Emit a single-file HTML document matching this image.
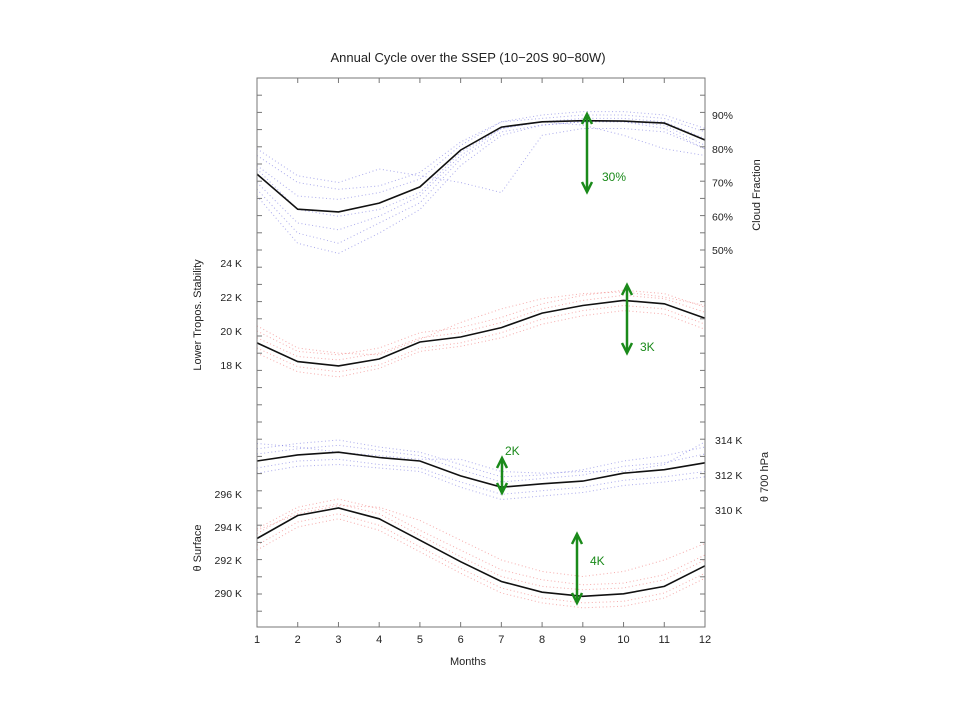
<!DOCTYPE html>
<html><head><meta charset="utf-8"><style>
html,body{margin:0;padding:0;background:#fff;width:960px;height:720px;overflow:hidden}
svg text{font-family:"Liberation Sans","DejaVu Sans",sans-serif;fill:#222}
</style></head><body>
<svg id="chart" width="960" height="720" viewBox="0 0 960 720" xmlns="http://www.w3.org/2000/svg">
<rect x="0" y="0" width="960" height="720" fill="#fff"/>
<text x="468" y="62" text-anchor="middle" font-size="13">Annual Cycle over the SSEP (10−20S 90−80W)</text>
<g id="plot"></g>
<rect x="257" y="78" width="448" height="549" fill="none" stroke="#777" stroke-width="1"/>
<g id="axes"></g>
<text x="468" y="665" text-anchor="middle" font-size="11">Months</text>
<text transform="translate(201,315) rotate(-90)" text-anchor="middle" font-size="11">Lower Tropos. Stability</text>
<text transform="translate(201,548) rotate(-90)" text-anchor="middle" font-size="11">θ  Surface</text>
<text transform="translate(760,195) rotate(-90)" text-anchor="middle" font-size="11">Cloud Fraction</text>
<text transform="translate(768,477) rotate(-90)" text-anchor="middle" font-size="11">θ  700 hPa</text>
</svg>
<script>
const months=[1,2,3,4,5,6,7,8,9,10,11,12];
const cloudMean=[72.5,62.1,61.3,63.9,68.7,79.6,86.4,88,88.3,88.2,87.6,82.6];
const ltsMean=[19.3,18.2,17.95,18.35,19.35,19.65,20.2,21.05,21.5,21.8,21.6,20.75];
const t700Mean=[312.8,313.15,313.3,313.0,312.8,311.95,311.3,311.5,311.65,312.1,312.3,312.7];
const tsfcMean=[293.3,294.7,295.15,294.5,293.2,291.9,290.7,290.05,289.8,289.95,290.4,291.65];
const cloudMembers=[
[78,70,68,69,73,82,88,90,91,91,90,86],
[75,66,65,67,71,81,88,89,90,90,89,85],
[70,58,56,60,66,78,86,88,89,89,88,83],
[68,55,52,58,64,77,85,87,88,88,87,81],
[80,72,70,74,72,70,67,84,86,86,85,80],
[74,62,60,62,67,79,86,88,87,84,80,78],
[66,52,49,55,62,75,84,87,88,88,86,80]];
const ltsMembers=[
[20,18.8,18.6,19,19.9,20.2,20.8,21.6,22.1,22.4,22.2,21.4],
[19.6,18.5,18.3,18.7,19.6,19.9,20.5,21.3,21.8,22.1,21.9,21.1],
[19,17.9,17.6,18,19,19.3,19.9,20.7,21.2,21.5,21.3,20.4],
[18.7,17.6,17.3,17.8,18.8,19.1,19.6,20.4,20.9,21.2,21,20.1],
[20.3,19,18.7,18.6,19.5,20.5,21.3,21.9,22.2,22.3,22,21.5]];
const t700Members=[
[313.5,313.8,314,313.6,313.3,312.6,311.9,312,312.3,312.8,313.1,313.6],
[313.2,313.5,313.7,313.4,313.1,312.3,311.6,311.8,312,312.5,312.7,313.2],
[312.4,312.8,312.9,312.6,312.4,311.6,310.9,311.1,311.3,311.7,311.9,312.2],
[312.1,312.5,312.6,312.4,312.2,311.3,310.6,310.8,311,311.4,311.6,311.9],
[313.8,313.6,313.3,313.1,312.9,312.9,312.2,312.1,312.2,312.2,312.6,313.9]];
const tsfcMembers=[
[293.9,295.2,295.7,295.1,293.8,292.6,291.4,290.8,290.5,290.6,291.1,292.3],
[293.6,295,295.4,294.8,293.5,292.2,291,290.4,290.2,290.3,290.8,292],
[292.9,294.3,294.8,294.1,292.8,291.5,290.3,289.7,289.4,289.5,290,291.2],
[292.6,294,294.5,293.8,292.5,291.2,290,289.4,289.1,289.2,289.7,290.9],
[293.8,294.8,295.3,295.2,294.4,293.2,292,291.3,291,291.3,292,293]];
const cloudTicks=[90,80,70,60,50];
const ltsTicks=[24,22,20,18];
const t700Ticks=[314,312,310];
const tsfcTicks=[296,294,292,290];

const NS='http://www.w3.org/2000/svg';
const plot=document.getElementById('plot'), axes=document.getElementById('axes');
const xS=m=>257+(m-1)*448/11;
const yCloud=v=>115+(90-v)*3.375;
const yLts=v=>331-(v-20)*17;
const y700=v=>475-(v-312)*17.5;
const ySfc=v=>593-(v-290)*16.5;
function mk(tag,attrs,parent){const e=document.createElementNS(NS,tag);for(const k in attrs)e.setAttribute(k,attrs[k]);parent.appendChild(e);return e;}
function pts(arr,yf){return arr.map((v,i)=>xS(months[i]).toFixed(1)+','+yf(v).toFixed(1)).join(' ');}
function series(mean,members,yf,col,name){
  members.forEach((m,j)=>{
    const p=mk('polyline',{points:pts(m,yf),fill:'none',stroke:col,'stroke-width':1,'stroke-dasharray':'1 2.6',opacity:0.55},plot);
    
    
  });
  const l=mk('polyline',{points:pts(mean,yf),fill:'none',stroke:'#111','stroke-width':1.6},plot);
  
  
}
series(cloudMean,cloudMembers,yCloud,'#6666dd','cloud-fraction');
series(ltsMean,ltsMembers,yLts,'#ee6666','lts');
series(t700Mean,t700Members,y700,'#6666dd','theta-700');
series(tsfcMean,tsfcMembers,ySfc,'#ee6666','theta-surface');

for(let y=78+17.2;y<627;y+=17.2){
  mk('line',{x1:257,x2:262,y1:y,y2:y,stroke:'#777'},axes);
  mk('line',{x1:700,x2:705,y1:y,y2:y,stroke:'#777'},axes);
}
months.forEach(m=>{
  const x=xS(m);
  mk('line',{x1:x,x2:x,y1:78,y2:83,stroke:'#777'},axes);
  mk('line',{x1:x,x2:x,y1:622,y2:627,stroke:'#777'},axes);
  const t=mk('text',{x:x,y:643,'text-anchor':'middle','font-size':11},axes);
  t.textContent=m;
  
  
});
function yLabels(ticks,yf,fmt,x,anchor,name){
  ticks.forEach(v=>{
    const t=mk('text',{x:x,y:yf(v)+4,'text-anchor':anchor,'font-size':10.5},axes);
    t.textContent=fmt(v);
    
    
  });
}
yLabels(cloudTicks,yCloud,v=>v+'%',712,'start','cloud-fraction');
yLabels(t700Ticks,y700,v=>v+' K',715,'start','theta-700');
yLabels(ltsTicks,yLts,v=>v+' K',242,'end','lts');
yLabels(tsfcTicks,ySfc,v=>v+' K',242,'end','theta-surface');

function arrow(x,y1,y2,label,lx,ly,name){
  const g=mk('g',{},axes);
  
  
  mk('line',{x1:x,x2:x,y1:y1+1,y2:y2-1,stroke:'#1a8a1a','stroke-width':2.5},g);
  mk('polyline',{points:`${x-5},${y1+11} ${x},${y1+1} ${x+5},${y1+11}`,fill:'none',stroke:'#1a8a1a','stroke-width':2.5},g);
  mk('polyline',{points:`${x-5},${y2-11} ${x},${y2-1} ${x+5},${y2-11}`,fill:'none',stroke:'#1a8a1a','stroke-width':2.5},g);
  const t=mk('text',{x:lx,y:ly,'font-size':12},g);
  t.setAttribute('style','fill:#1a8a1a');
  t.textContent=label;
}
arrow(587,113,193,'30%',602,181,'cloud-range-arrow');
arrow(627,284,354,'3K',640,351,'lts-range-arrow');
arrow(502,457,494,'2K',505,455,'theta-700-range-arrow');
arrow(577,533,604,'4K',590,565,'theta-surface-range-arrow');
</script>
</body></html>
